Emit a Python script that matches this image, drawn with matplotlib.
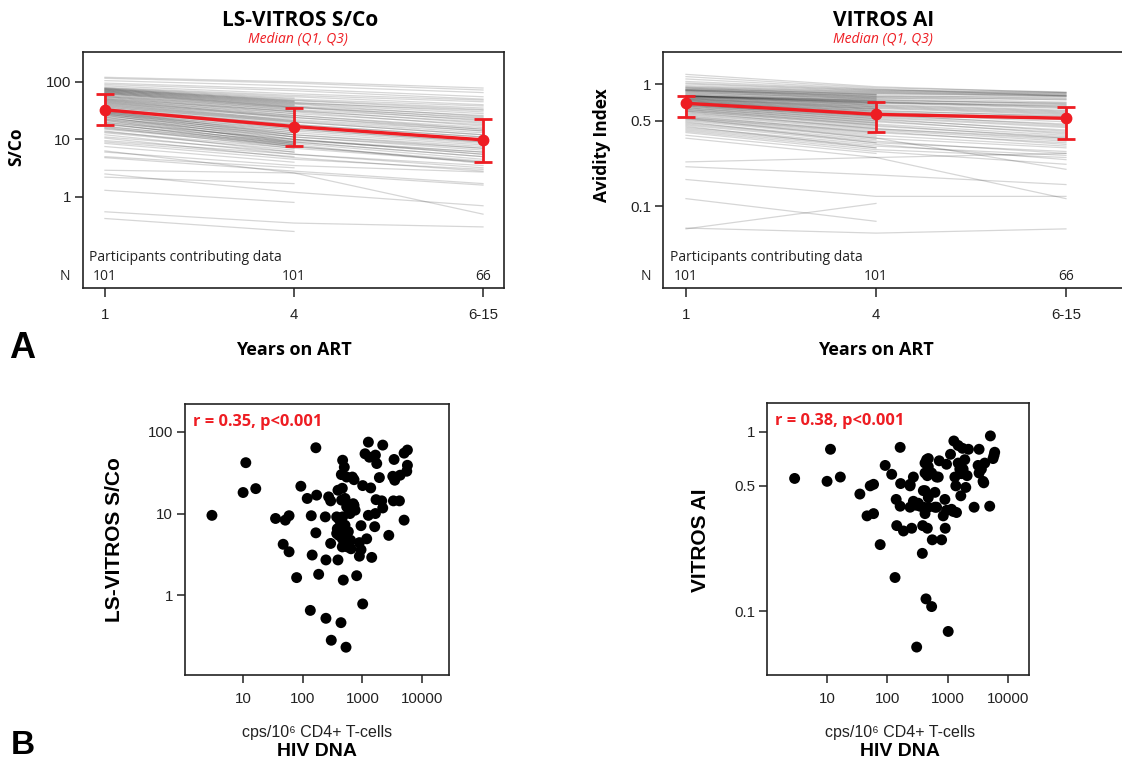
import numpy as np
import matplotlib
matplotlib.use("Agg")
import matplotlib.pyplot as plt
from matplotlib.ticker import FixedLocator, NullLocator, FixedFormatter

# ---------------- data ----------------
time_labels = ["1", "4", "6-15"]
n_participants = [101, 101, 66]
nan = np.nan

sco_median = [32.6, 16.7, 9.8]
sco_q1 = [17.6, 7.8, 4.1]
sco_q3 = [62.0, 35.7, 22.4]

ai_median = [0.695, 0.564, 0.524]
ai_q1 = [0.54, 0.406, 0.354]
ai_q3 = [0.80, 0.716, 0.644]

sco_y1 = [0.42, 0.55, 1.3, 2.2, 2.5, 2.9, 4.8, 5.0, 6.0, 6.3, 7.5, 8.5, 9.0, 9.5, 10.5, 11, 12, 13, 13.5, 14,
          15, 15.5, 16, 16.5, 17, 18, 18.5, 19, 19.5, 20, 21, 21.5, 22, 22.5, 23, 24, 24.5, 25, 26, 26.5,
          27, 27.5, 28, 28.5, 29, 29.5, 30, 30.5, 31, 31.5, 32, 33, 34, 35, 36, 37, 38, 39, 40, 41,
          42, 43, 44, 45, 46, 47, 48, 49, 50, 51, 52, 54, 55, 56, 57, 59, 61, 62, 63, 64,
          65, 66, 67, 68, 69, 70, 71, 72, 73, 74, 75, 76, 77, 78, 80, 85, 90, 95, 105, 115, 120]
sco_y4 = [0.25, 0.35, 0.8, 1.7, 1.2, 2.6, 2.8, 3.2, 3.5, 2.6, 4.0, 4.5, 5.0, 5.5, 4.8, 6.0, 5.5, 6.5, 7.0, 6.0,
          7.5, 8.0, 7.0, 8.5, 7.5, 9.0, 8.0, 7.5, 10, 8.5, 9.5, 8.0, 11, 9.0, 12, 10, 8.5, 13, 11, 9.0,
          14, 12, 10, 15, 13, 11, 16, 14, 12, 17, 16.5, 15, 18, 16, 20, 17, 21, 18, 22, 19,
          24, 20, 25, 21, 26, 23, 28, 24, 30, 26, 31, 28, 33, 30, 35, 32, 36, 34, 38, 36,
          40, 37, 42, 39, 44, 41, 46, 43, 48, 45, 50, 47, 52, 55, 58, 62, 70, 75, 85, 95, 100]
sco_y615 = [nan, 0.30, nan, nan, 0.70, 1.6, 1.7, nan, 2.7, 0.5, nan, 3.0, nan, 3.2, 2.8, nan, 3.5, nan, 4.0, nan,
            4.2, 3.8, nan, 4.5, nan, 5.0, nan, 4.0, 5.5, nan, 6.0, nan, 6.5, nan, 7.0, 5.5, nan, 8.0, nan, 5.0,
            8.5, nan, 6.0, 9.0, nan, 7.0, 9.5, nan, 7.5, 10, nan, 9.0, 11, nan, 12, 10, nan, 11, 14, nan,
            15, 12, nan, 13, 16, nan, 18, 14, nan, 15, 20, nan, 22, 17, nan, 19, 24, nan, 26, 21,
            nan, 23, 28, nan, 30, 25, nan, 32, 35, nan, 38, 33, nan, 40, 45, 48, 50, 55, 65, 72, 78]

ai_y1 = [0.065, 0.066, 0.115, 0.165, 0.21, 0.23, 0.36, 0.38, 0.40, 0.41, 0.42, 0.43, 0.44, 0.45, 0.46, 0.47, 0.48, 0.49, 0.50, 0.51,
         0.52, 0.52, 0.53, 0.53, 0.54, 0.55, 0.56, 0.57, 0.58, 0.59, 0.60, 0.60, 0.61, 0.62, 0.62, 0.63, 0.64, 0.64, 0.65, 0.66,
         0.66, 0.67, 0.67, 0.68, 0.68, 0.69, 0.69, 0.69, 0.70, 0.70, 0.70, 0.71, 0.71, 0.72, 0.72, 0.73, 0.73, 0.74, 0.74, 0.75,
         0.75, 0.76, 0.76, 0.77, 0.77, 0.78, 0.78, 0.79, 0.79, 0.79, 0.80, 0.80, 0.80, 0.80, 0.80, 0.80, 0.81, 0.82, 0.83, 0.84,
         0.85, 0.86, 0.87, 0.88, 0.88, 0.89, 0.89, 0.90, 0.90, 0.91, 0.92, 0.93, 0.94, 0.95, 0.97, 1.00, 1.02, 1.05, 1.10, 1.15, 1.20]
ai_y4 = [0.105, 0.06, 0.075, 0.12, 0.18, 0.25, 0.25, 0.27, 0.28, 0.29, 0.30, 0.31, 0.32, 0.30, 0.33, 0.34, 0.35, 0.33, 0.36, 0.37,
         0.38, 0.36, 0.39, 0.40, 0.41, 0.40, 0.42, 0.43, 0.44, 0.43, 0.45, 0.46, 0.47, 0.46, 0.48, 0.49, 0.50, 0.48, 0.51, 0.52,
         0.50, 0.53, 0.54, 0.52, 0.55, 0.56, 0.54, 0.57, 0.58, 0.55, 0.56, 0.59, 0.60, 0.58, 0.61, 0.62, 0.60, 0.63, 0.62, 0.64,
         0.65, 0.63, 0.66, 0.67, 0.65, 0.68, 0.69, 0.67, 0.70, 0.71, 0.69, 0.72, 0.70, 0.73, 0.71, 0.74, 0.72, 0.75, 0.73, 0.76,
         0.77, 0.75, 0.78, 0.79, 0.77, 0.80, 0.81, 0.79, 0.82, 0.83, 0.84, 0.82, 0.85, 0.86, 0.87, 0.88, 0.89, 0.90, 0.91, 0.93, 0.95]
ai_y615 = [nan, 0.065, nan, 0.12, 0.15, 0.115, 0.27, nan, 0.22, 0.25, nan, 0.26, 0.24, nan, 0.28, 0.27, nan, nan, 0.30, nan,
           0.31, 0.20, nan, 0.33, 0.32, nan, 0.34, 0.35, nan, 0.36, 0.37, nan, 0.38, 0.36, nan, 0.40, 0.39, nan, 0.42, 0.41,
           nan, 0.44, 0.45, nan, 0.47, 0.46, nan, 0.49, nan, nan, 0.51, 0.52, nan, 0.53, 0.54, nan, 0.55, 0.56, nan, 0.57,
           0.58, nan, 0.59, 0.60, nan, 0.61, nan, nan, 0.63, 0.64, nan, 0.65, 0.66, nan, 0.67, 0.68, nan, 0.69, 0.70, nan,
           0.71, nan, nan, 0.74, 0.75, nan, 0.76, 0.78, nan, 0.79, 0.80, nan, 0.80, 0.81, 0.82, 0.83, 0.84, 0.85, 0.80, 0.86, 0.85]

# Scatter: HIV DNA (cps/10^6 CD4+ T-cells) vs LS-VITROS S/Co
dna_sco = [3.0, 11.1, 10, 16.3, 166, 93, 35, 51, 59, 47, 59, 79, 119, 139, 144, 134, 171, 166, 185, 239,
           272, 294, 294, 245, 245, 301, 390, 390, 461, 400, 380, 405, 467, 498, 444, 546, 512, 467, 512, 461,
           461, 479, 438, 532, 582, 621, 680, 560, 646, 725, 725, 803, 1013, 950, 891, 950, 891, 1013, 1109, 1262,
           1312, 1183, 1262, 1380, 1436, 1656, 1743, 1698, 1656, 1612, 1930, 2197, 2115, 2197, 2775, 3406, 3236, 3493, 3319, 4188,
           4295, 5013, 5013, 5698, 5698, 5559, 371, 422, 512, 582, 371, 546, 756, 702, 448, 635]
sco_val = [9.5, 42, 18.1, 20.2, 64, 21.6, 8.7, 8.3, 9.4, 4.2, 3.4, 1.64, 15.3, 9.4, 3.1, 0.65, 16.8, 5.8, 1.8, 9.1,
           16, 14.3, 4.3, 2.7, 0.52, 0.28, 2.7, 19.3, 20.4, 8.7, 6.5, 5.4, 45, 37, 30, 28, 15.3, 9.1, 6.5, 4.9,
           3.9, 1.53, 0.46, 0.23, 11.5, 10, 28, 3.9, 3.7, 26, 12.6, 1.73, 22, 7.1, 4.4, 3.6, 3.0, 0.78, 54, 75,
           49, 4.9, 9.5, 20.6, 2.9, 52, 41, 14.8, 10, 6.9, 27.6, 69, 14.3, 11.7, 5.4, 46, 28.6, 25.6, 14.3, 14.3,
           29.5, 55, 8.3, 60, 39, 33, 9.1, 8.1, 7.2, 6.0, 5.7, 12.1, 11, 13.2, 14.6, 4.7]

# Scatter: HIV DNA vs VITROS AI
dna_ai = [2.9, 11.4, 10, 16.6, 163, 35, 52, 59, 46, 59, 92, 76, 118, 140, 163, 143, 134, 166, 185, 238,
          253, 238, 270, 299, 306, 347, 385, 380, 437, 542, 1020, 448, 477, 421, 460, 421, 477, 421, 460, 556,
          793, 655, 615, 615, 725, 957, 1114, 899, 844, 911, 1266, 1493, 1760, 2211, 1316, 1365, 1589, 1693, 1651, 1995,
          2099, 1921, 1158, 1400, 2743, 3317, 3194, 3317, 3966, 4116, 4975, 5106, 5649, 6018, 5860, 477, 421, 542, 698, 1493,
          1803, 3622, 3860, 395, 238, 270, 326, 477, 655, 395, 957, 1233]
ai_val = [0.55, 0.80, 0.53, 0.56, 0.82, 0.45, 0.50, 0.51, 0.34, 0.35, 0.65, 0.235, 0.58, 0.42, 0.385, 0.30, 0.154, 0.515, 0.28, 0.38,
          0.29, 0.51, 0.56, 0.39, 0.063, 0.385, 0.30, 0.21, 0.117, 0.106, 0.077, 0.70, 0.64, 0.59, 0.57, 0.47, 0.43, 0.35, 0.29, 0.25,
          0.25, 0.56, 0.46, 0.38, 0.69, 0.66, 0.75, 0.42, 0.34, 0.29, 0.89, 0.84, 0.81, 0.80, 0.56, 0.50, 0.62, 0.585, 0.44, 0.49,
          0.57, 0.70, 0.37, 0.355, 0.38, 0.80, 0.65, 0.59, 0.52, 0.67, 0.385, 0.95, 0.71, 0.77, 0.74, 0.71, 0.67, 0.59, 0.56, 0.67,
          0.62, 0.62, 0.53, 0.47, 0.50, 0.41, 0.40, 0.38, 0.38, 0.38, 0.365, 0.36]

# ---------------- styling ----------------
W, H = 1122, 763
RED = "#ee1d23"
TICKF = ["Liberation Sans", "DejaVu Sans"]
LABF = ["Open Sans", "DejaVu Sans"]

fig = plt.figure(figsize=(W / 100, H / 100), dpi=100)


def fx(p):
    return p / W


def fy(p):
    return 1 - p / H


def rect(l, t, r, b):
    return [fx(l), fy(b), (r - l) / W, (b - t) / H]


def style_axes(ax):
    for s in ax.spines.values():
        s.set_linewidth(1.2)
        s.set_color("#222222")
    ax.tick_params(direction="out", length=5.5, width=1.1, color="#222222",
                   labelsize=10.8, labelcolor="#222222")
    for lab in ax.get_xticklabels() + ax.get_yticklabels():
        lab.set_family(TICKF)


xpos = [1, 2, 3]


def line_panel(ax, y1, y4, y615, med, q1, q3, yticks, yticklabels, ylim, xlim, npos_x, part_x):
    for a, b, c in zip(y1, y4, y615):
        ax.plot(xpos, [a, b, c], color="black", alpha=0.16, lw=0.9, zorder=1)
    med = np.array(med)
    err = [med - np.array(q1), np.array(q3) - med]
    ax.errorbar(xpos, med, yerr=err, color=RED, lw=2.4, marker="o", ms=7.5,
                elinewidth=2.0, capsize=6.5, capthick=2.0, zorder=5)
    ax.set_yscale("log")
    ax.set_ylim(*ylim)
    ax.set_xlim(*xlim)
    ax.yaxis.set_major_locator(FixedLocator(yticks))
    ax.yaxis.set_major_formatter(FixedFormatter(yticklabels))
    ax.yaxis.set_minor_locator(NullLocator())
    ax.set_xticks(xpos)
    ax.set_xticklabels(time_labels)
    style_axes(ax)
    ax.tick_params(axis="x", length=6.5, pad=8)
    ax.tick_params(axis="y", pad=3)
    tr = ax.get_xaxis_transform()
    for xp, n in zip(xpos, n_participants):
        ax.text(xp, 0.047, str(n), transform=tr, ha="center", va="center",
                fontsize=10, family=LABF, color="#222222")
    fig.text(fx(part_x), fy(258), "Participants contributing data",
             ha="left", va="center", fontsize=10, family=LABF, color="#222222")
    fig.text(fx(npos_x), fy(277), "N", ha="center", va="center", fontsize=10,
             family=LABF, color="#222222")


# Panel A left
axA1 = fig.add_axes(rect(83, 52, 504, 288))
line_panel(axA1, sco_y1, sco_y4, sco_y615, sco_median, sco_q1, sco_q3,
           [1, 10, 100], ["1", "10", "100"], (0.026, 330), (0.884, 3.111), 65, 89)

# Panel A right (box runs off the right edge)
axA2 = fig.add_axes(rect(663, 52, 1126, 288))
line_panel(axA2, ai_y1, ai_y4, ai_y615, ai_median, ai_q1, ai_q3,
           [0.1, 0.5, 1], ["0.1", "0.5", "1"], (0.0213, 1.83), (0.879, 3.316), 646, 670)

# titles
fig.text(fx(300), fy(21), "LS-VITROS S/Co", ha="center", va="center", fontsize=15,
         fontweight="bold", family=LABF)
fig.text(fx(298), fy(40), "Median (Q1, Q3)", ha="center", va="center", fontsize=10,
         style="italic", color=RED, family=LABF)
fig.text(fx(884), fy(21), "VITROS AI", ha="center", va="center", fontsize=15,
         fontweight="bold", family=LABF)
fig.text(fx(883), fy(40), "Median (Q1, Q3)", ha="center", va="center", fontsize=10,
         style="italic", color=RED, family=LABF)
fig.text(fx(16), fy(147), "S/Co", rotation=90, ha="center", va="center", fontsize=12.5,
         fontweight="bold", family=LABF)
fig.text(fx(602), fy(145), "Avidity Index", rotation=90, ha="center", va="center", fontsize=12.5,
         fontweight="bold", family=LABF)
fig.text(fx(294), fy(350), "Years on ART", ha="center", va="center", fontsize=13,
         fontweight="bold", family=LABF)
fig.text(fx(876), fy(350), "Years on ART", ha="center", va="center", fontsize=13,
         fontweight="bold", family=LABF)
fig.text(fx(22), fy(349), "A", ha="center", va="center", fontsize=26, fontweight="bold",
         family=["Liberation Sans", "DejaVu Sans"])
fig.text(fx(23), fy(745), "B", ha="center", va="center", fontsize=24, fontweight="bold",
         family=["Liberation Sans", "DejaVu Sans"])


def scatter_panel(ax, xs, ys, yticks, yticklabels, ylim, xlim, rtext):
    ax.scatter(xs, ys, s=62, color="black", edgecolors="none", zorder=3)
    ax.set_xscale("log")
    ax.set_yscale("log")
    ax.set_xlim(*xlim)
    ax.set_ylim(*ylim)
    ax.xaxis.set_major_locator(FixedLocator([10, 100, 1000, 10000]))
    ax.xaxis.set_major_formatter(FixedFormatter(["10", "100", "1000", "10000"]))
    ax.xaxis.set_minor_locator(NullLocator())
    ax.yaxis.set_major_locator(FixedLocator(yticks))
    ax.yaxis.set_major_formatter(FixedFormatter(yticklabels))
    ax.yaxis.set_minor_locator(NullLocator())
    style_axes(ax)
    ax.tick_params(axis="x", pad=7)
    ax.tick_params(axis="y", pad=3)
    ax.text(0.03, 0.935, rtext, transform=ax.transAxes, ha="left", va="center",
            fontsize=11.8, fontweight="bold", color=RED, family=LABF)


axB1 = fig.add_axes(rect(185, 404, 449, 675))
scatter_panel(axB1, dna_sco, sco_val, [1, 10, 100], ["1", "10", "100"], (0.105, 220),
              (1.06, 28400), "r = 0.35, p<0.001")
axB2 = fig.add_axes(rect(767, 403, 1029, 675))
scatter_panel(axB2, dna_ai, ai_val, [0.1, 0.5, 1], ["0.1", "0.5", "1"], (0.044, 1.45),
              (1.01, 22300), "r = 0.38, p<0.001")

fig.text(fx(115), fy(540), "LS-VITROS S/Co", rotation=90, ha="center", va="center",
         fontsize=15, fontweight="bold", family=TICKF)
fig.text(fx(700), fy(540), "VITROS AI", rotation=90, ha="center", va="center",
         fontsize=15, fontweight="bold", family=TICKF)
for cx in (317, 900):
    fig.text(fx(cx), fy(733), "cps/10\u2076 CD4+ T-cells", ha="center", va="center",
             fontsize=11.5, family=TICKF, color="#222222")
    fig.text(fx(cx), fy(752), "HIV DNA", ha="center", va="center", fontsize=14,
             fontweight="bold", family=TICKF)

fig.savefig("out.png", dpi=100)
